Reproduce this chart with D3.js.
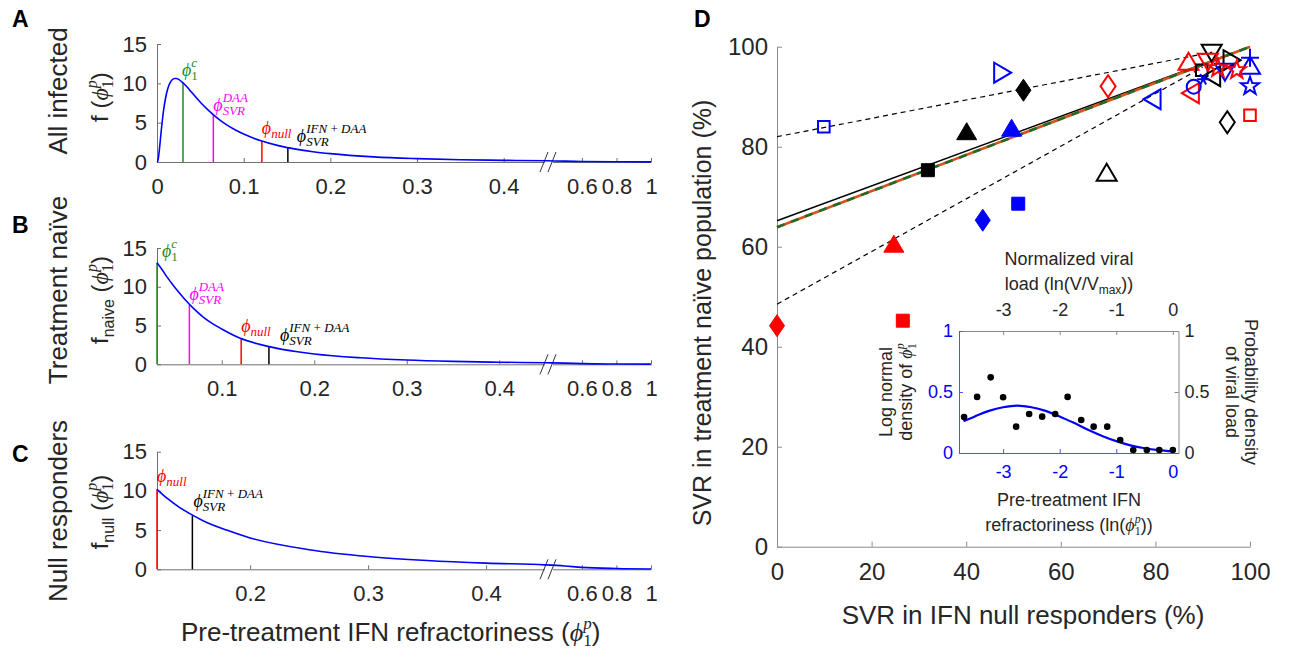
<!DOCTYPE html>
<html><head><meta charset="utf-8">
<script src="https://cdn.jsdelivr.net/npm/d3@7"></script>
<style>body{margin:0;background:#fff;} svg{display:block;} text{white-space:pre;}</style>
</head><body><svg id="c" width="1289" height="649"></svg>
<script>
// ===================== DATA =====================
// Panels A-C : density curves
const phiGridA=[0,0.001,0.003,0.005,0.0075,0.01,0.0125,0.015,0.0175,0.02,0.0225,0.025,0.03,0.035,0.04,0.05,0.06,0.07,0.08,0.09,0.1,0.12,0.14,0.16,0.18,0.2,0.25,0.3,0.35,0.4,0.45,0.5,0.6,0.8,1.0];
const fAll=[0,0.15,1.85,4.1,6.5,8.2,9.35,10.05,10.45,10.62,10.62,10.5,10.05,9.5,8.85,7.6,6.5,5.55,4.75,4.1,3.55,2.7,2.08,1.64,1.31,1.06,0.65,0.43,0.29,0.21,0.15,0.11,0.065,0.026,0.012];
const phiGridB=[0.03,0.035,0.04,0.05,0.06,0.07,0.08,0.09,0.1,0.12,0.14,0.16,0.18,0.2,0.25,0.3,0.35,0.4,0.45,0.5,0.6,0.8,1.0];
const fNaive=[13.1,12.3,11.4,9.8,8.4,7.15,6.1,5.25,4.55,3.35,2.6,2.05,1.65,1.33,0.84,0.55,0.38,0.27,0.2,0.15,0.086,0.034,0.016];
const phiGridC=[0.121,0.13,0.14,0.15,0.16,0.18,0.2,0.25,0.3,0.35,0.4,0.45,0.5,0.6,0.8,1.0];
const fNull=[10.2,9.0,7.9,7.0,6.2,5.0,4.0,2.5,1.63,1.12,0.79,0.57,0.43,0.25,0.1,0.046];
const thresholdPhi=[0.03,0.065,0.121,0.151];           // phi1c, phiSVR^DAA, phinull, phiSVR^IFN+DAA
const lineTopA=[10.1,6.0,2.7,1.85];
const lineTopB=[13.1,7.7,3.3,2.25];
const lineTopC=[null,null,10.2,6.85];
const xTicksA=[0,0.1,0.2,0.3,0.4,0.6,0.8,1];
const xTicksB=[0.1,0.2,0.3,0.4,0.6,0.8,1];
const xTicksC=[0.2,0.3,0.4,0.6,0.8,1];
const yTicksABC=[0,5,10,15];
// Panel D : trial data
const svrNull=[9.9,40.1,47.6,52.1,49.6,31.9,70.0,79.4,69.7,51.0,43.5,24.7,0,26.6,95.2,100,100,100,100,87.0,91.9,87.5,88.1,89.8,91.1,92.0,96.1,94.7,93.2,97.2,90.1];
const svrNaive=[84,83,94.8,91.3,83.7,75.3,92.1,89.5,74.8,68.6,65.3,60.5,44.2,45.2,84.9,86.3,92.1,96.2,97.8,97,98.8,90.7,92,95.3,97,94.1,97.3,95,95.7,95.3,93.5];
const markerShape=['square','triUp','triRight','diamond','triUp','square','diamond','triLeft','triUp','square','diamond','triUp','diamond','square','diamond','square','star','triUp','plus','triUp','triDown','triLeft','circle','square','triDown','triLeft','triRight','triDown','star','star','asterisk'];
const markerColor=['blue','black','blue','black','blue','black','red','blue','black','blue','blue','red','red','red','black','red','blue','blue','blue','red','black','red','blue','black','red','black','black','blue','red','red','blue'];
const markerFilled=[0,1,0,1,1,1,0,0,0,1,1,1,1,1,0,0,0,0,0,0,0,0,0,0,0,0,0,0,0,0,0];
const fitX=[0,100];
const fitBlack=[65.2,100];
const fitColored=[63.9,100];
const upperX=[0,92], upperY=[82,98.9];
const lowerX=[0,90], lowerY=[48.5,95.9];
const dTicks=[0,20,40,60,80,100];
// Inset
const lnPhiGrid=[-3.7,-3.5,-3.25,-3,-2.75,-2.5,-2.25,-2,-1.75,-1.5,-1.25,-1,-0.75,-0.5,-0.25,0];
const lnDensity=[0.26,0.3,0.345,0.375,0.388,0.375,0.345,0.3,0.247,0.19,0.14,0.097,0.063,0.039,0.023,0.013];
const lnViral=[-3.69,-3.46,-3.22,-3.0,-2.77,-2.54,-2.31,-2.08,-1.86,-1.62,-1.40,-1.16,-0.93,-0.70,-0.46,-0.24,0.0];
const viralDensity=[0.295,0.46,0.62,0.457,0.216,0.32,0.298,0.32,0.46,0.27,0.216,0.216,0.106,0.025,0.025,0.025,0.025];
const insetTicksX=[-3,-2,-1,0];
const insetTicksY=[0,0.5,1];

// ===================== STYLE =====================
const SANS='"Liberation Sans", Arial, Helvetica, sans-serif';
const SERIF='"Liberation Serif","DejaVu Serif","Times New Roman",serif';
const TXT='#262626', AX='#707070';
const GREEN='#1f8a1f', MAG='#ff00ff', RED='#ff0000', BLUE='#0000ff', ORANGE='#d95319', DKGREEN='#1e6b2a';
const COL={blue:BLUE,red:RED,black:'#000'};
const thrColor=[GREEN,MAG,RED,'#000'];

const svg=d3.select('#c');
svg.append('rect').attr('width',1289).attr('height',649).attr('fill','#fff');

function rich(parent,x,y,rot,anchor,color,parts){
  const t=parent.append('text').attr('transform',`translate(${x},${y}) rotate(${rot})`)
    .attr('text-anchor',anchor).attr('fill',color);
  let cur=0, prevW=0, pend=0;
  parts.forEach(p=>{
    const ts=t.append('tspan').text(p.t).attr('font-size',p.size).attr('font-family',p.fam||SANS);
    if(p.it) ts.attr('font-style','italic');
    if(p.bold) ts.attr('font-weight','bold');
    const sh=p.shift||0; const dy=sh-cur; cur=sh;
    if(dy) ts.attr('dy',dy);
    let dx=pend; pend=0;
    const w=ts.node().getComputedTextLength();
    if(p.stack){ dx-=prevW; if(w<prevW) pend=prevW-w; prevW=Math.max(w,prevW);} else prevW=w;
    if(dx) ts.attr('dx',dx);
  });
  return t;
}
function phiParts(size,sub,sup,subIt){
  const s=Math.round(size*0.7);
  const parts=[{t:'\u03D5',size:size,fam:SERIF,it:true}];
  if(sub) parts.push({t:sub,size:s,fam:SERIF,it:subIt!==false,shift:Math.round(size*0.22)});
  if(sup) parts.push({t:sup,size:s,fam:SERIF,it:true,shift:-Math.round(size*0.5),stack:!!sub});
  return parts;
}
function styleAxis(g,fs,lineCol,txtCol){
  g.select('.domain').attr('stroke',lineCol||AX);
  g.selectAll('.tick line').attr('stroke',lineCol||AX);
  g.selectAll('.tick text').attr('fill',txtCol||TXT).attr('font-size',fs).attr('font-family',SANS);
}
const fmtTick=d=>String(d);

// ===================== PANELS A-C =====================
function panel(p){
  const g=svg.append('g');
  const x=d3.scaleLinear().domain([p.x0,0.45,0.4501,1]).range([157,p.xb,556,651]);
  const y=d3.scaleLinear().domain([0,15]).range([p.y0,p.y15]);
  const gx=g.append('g').attr('transform',`translate(0,${p.y0})`)
    .call(d3.axisBottom(x).tickValues(p.ticks).tickSizeInner(-4).tickSizeOuter(0).tickPadding(16).tickFormat(fmtTick));
  styleAxis(gx,22);
  const gy=g.append('g').attr('transform','translate(157,0)')
    .call(d3.axisLeft(y).tickValues(yTicksABC).tickSizeInner(-4).tickSizeOuter(0).tickPadding(10));
  styleAxis(gy,22);
  // axis break
  g.append('rect').attr('x',545).attr('y',p.y0-11).attr('width',8).attr('height',22).attr('fill','#fff');
  [544,552].forEach(bx=>g.append('line').attr('x1',bx-4).attr('y1',p.y0+10).attr('x2',bx+4).attr('y2',p.y0-10)
    .attr('stroke','#333').attr('stroke-width',1));
  // threshold lines
  p.tops.forEach((h,i)=>{
    if(h==null) return;
    g.append('line').attr('x1',x(thresholdPhi[i])).attr('x2',x(thresholdPhi[i]))
      .attr('y1',y(0)).attr('y2',y(h)).attr('stroke',thrColor[i]).attr('stroke-width',1.5);
  });
  // curve
  g.append('path').datum(d3.zip(p.xs,p.ys))
    .attr('d',d3.line().curve(d3.curveMonotoneX).x(d=>x(d[0])).y(d=>y(d[1])))
    .attr('fill','none').attr('stroke',BLUE).attr('stroke-width',1.6);
  // annotations
  p.ann.forEach(a=>{
    const i=a.i;
    rich(g,x(thresholdPhi[i])+a.dx,y(p.tops[i])+a.dy,0,'start',thrColor[i],phiParts(18,a.sub,a.sup,a.subIt));
  });
  return {x,y};
}

const annA=[
  {i:0,dx:-1,dy:-7,sub:'1',sup:'c',subIt:false},
  {i:1,dx:0,dy:-4,sub:'SVR',sup:'DAA'},
  {i:2,dx:0,dy:-7,sub:'null'},
  {i:3,dx:9,dy:-5,sub:'SVR',sup:'IFN\u2009+\u2009DAA'}];
const annB=[
  {i:0,dx:5,dy:-6,sub:'1',sup:'c',subIt:false},
  {i:1,dx:0,dy:-5,sub:'SVR',sup:'DAA'},
  {i:2,dx:0,dy:-7,sub:'null'},
  {i:3,dx:11,dy:-6,sub:'SVR',sup:'IFN\u2009+\u2009DAA'}];
const annC=[
  {i:2,dx:0,dy:-7,sub:'null'},
  {i:3,dx:1,dy:-9,sub:'SVR',sup:'IFN\u2009+\u2009DAA'}];

panel({x0:0,xb:547,y0:162,y15:44,ticks:xTicksA,tops:lineTopA,xs:phiGridA,ys:fAll,ann:annA});
panel({x0:0.03,xb:545.5,y0:364.3,y15:248,ticks:xTicksB,tops:lineTopB,xs:phiGridB,ys:fNaive,ann:annB});
panel({x0:0.121,xb:545,y0:569.3,y15:451.7,ticks:xTicksC,tops:lineTopC,xs:phiGridC,ys:fNull,ann:annC});

// panel letters and labels
[['A',12,27],['B',12,233],['C',12,462],['D',694,27]].forEach(([t,x,y])=>
  svg.append('text').attr('x',x).attr('y',y).text(t).attr('font-family',SANS).attr('font-weight','bold').attr('font-size',23).attr('fill','#000'));
rich(svg,67,91,-90,'middle',TXT,[{t:'All infected',size:26}]);
rich(svg,67,290,-90,'middle',TXT,[{t:'Treatment na\u00efve',size:26}]);
rich(svg,67,511,-90,'middle',TXT,[{t:'Null responders',size:26}]);
function fLabel(x,y,sub){
  const parts=[{t:'f',size:24}];
  if(sub) parts.push({t:sub,size:16,shift:6});
  parts.push({t:' (',size:24,shift:0});
  parts.push({t:'\u03D5',size:24,fam:SERIF,it:true});
  parts.push({t:'1',size:16,fam:SERIF,shift:5});
  parts.push({t:'p',size:16,fam:SERIF,it:true,shift:-11,stack:true});
  parts.push({t:')',size:24,shift:0});
  rich(svg,x,y,-90,'middle',TXT,parts);
}
fLabel(108,97,null);
fLabel(108,300,'naive');
fLabel(108,512,'null');
rich(svg,181,641,0,'start',TXT,[{t:'Pre-treatment IFN refractoriness (',size:26},
  {t:'\u03D5',size:26,fam:SERIF,it:true},{t:'1',size:17,fam:SERIF,shift:5},
  {t:'p',size:17,fam:SERIF,it:true,shift:-12,stack:true},{t:')',size:26,shift:0}]);

// ===================== PANEL D =====================
const xD=d3.scaleLinear().domain([0,100]).range([777,1250]);
const yD=d3.scaleLinear().domain([0,100]).range([546.7,46.7]);
const gD=svg.append('g');
const gxD=gD.append('g').attr('transform','translate(0,546.7)')
  .call(d3.axisBottom(xD).tickValues(dTicks).tickSizeInner(-5).tickSizeOuter(0).tickPadding(16).tickFormat(fmtTick));
styleAxis(gxD,24,'#8a8a8a');
const gyD=gD.append('g').attr('transform','translate(777,0)')
  .call(d3.axisLeft(yD).tickValues(dTicks).tickSizeInner(-5).tickSizeOuter(0).tickPadding(9).tickFormat(fmtTick));
styleAxis(gyD,24,'#8a8a8a');

const lineD=d3.line().x(d=>xD(d[0])).y(d=>yD(d[1]));
gD.append('path').datum(d3.zip(upperX,upperY)).attr('d',lineD).attr('fill','none').attr('stroke','#000').attr('stroke-width',1.2).attr('stroke-dasharray','5,4');
gD.append('path').datum(d3.zip(lowerX,lowerY)).attr('d',lineD).attr('fill','none').attr('stroke','#000').attr('stroke-width',1.2).attr('stroke-dasharray','5,4');
gD.append('path').datum(d3.zip(fitX,fitBlack)).attr('d',lineD).attr('fill','none').attr('stroke','#000').attr('stroke-width',1.5);
gD.append('path').datum(d3.zip(fitX,fitColored)).attr('d',lineD).attr('fill','none').attr('stroke',ORANGE).attr('stroke-width',2.6);
gD.append('path').datum(d3.zip(fitX,fitColored)).attr('d',lineD).attr('fill','none').attr('stroke',DKGREEN).attr('stroke-width',2.6).attr('stroke-dasharray','8,7');

function starPath(R,r){
  let s='';
  for(let k=0;k<10;k++){const a=-Math.PI/2+k*Math.PI/5, rr=k%2?r:R; s+=(k?'L':'M')+(rr*Math.cos(a)).toFixed(2)+','+(rr*Math.sin(a)).toFixed(2);}
  return s+'Z';
}
function shapePath(s,filled){
  switch(s){
    case 'square': return filled?'M-6.5,-6.5h13v13h-13z':'M-5.8,-5.8h11.6v11.6h-11.6z';
    case 'triUp': return 'M0,-9L10,8L-10,8Z';
    case 'triDown': return 'M0,9L10,-8L-10,-8Z';
    case 'triRight': return 'M9,0L-8,-10L-8,10Z';
    case 'triLeft': return 'M-9,0L8,-10L8,10Z';
    case 'diamond': return 'M0,-11L7.5,0L0,11L-7.5,0Z';
    case 'circle': return 'M7,0A7,7 0 1,1 -7,0A7,7 0 1,1 7,0Z';
    case 'plus': return 'M-9,0H9M0,-9V9';
    case 'star': return starPath(9.5,3.8);
    case 'asterisk': return 'M-6,0H6M-3,-5.2L3,5.2M-3,5.2L3,-5.2';
  }
}
svrNull.forEach((v,i)=>{
  const c=COL[markerColor[i]], f=markerFilled[i];
  gD.append('path').attr('d',shapePath(markerShape[i],f))
    .attr('transform',`translate(${xD(v)},${yD(svrNaive[i])})`)
    .attr('fill',f?c:'none').attr('stroke',c).attr('stroke-width',f?1:2).attr('stroke-linejoin','miter');
});

rich(svg,711,313,-90,'middle',TXT,[{t:'SVR in treatment na\u00efve population (%)',size:25}]);
rich(svg,1023,624,0,'middle',TXT,[{t:'SVR in IFN null responders (%)',size:26}]);

// ===================== INSET =====================
const xI=d3.scaleLinear().domain([-3.78,0.1]).range([959,1178.5]);
const yI=d3.scaleLinear().domain([0,1]).range([453,331]);
const gI=svg.append('g');
gI.append('rect').attr('x',959).attr('y',331).attr('width',219.5).attr('height',122).attr('fill','#fff');
const gIt=gI.append('g').attr('transform','translate(0,331)')
  .call(d3.axisTop(xI).tickValues(insetTicksX).tickSizeInner(-4).tickSizeOuter(0).tickPadding(15).tickFormat(fmtTick));
styleAxis(gIt,18,'#8a8a8a');
const gIr=gI.append('g').attr('transform','translate(1178.5,0)')
  .call(d3.axisRight(yI).tickValues(insetTicksY).tickSizeInner(-4).tickSizeOuter(0).tickPadding(6).tickFormat(fmtTick));
styleAxis(gIr,18,'#8a8a8a');
const gIb=gI.append('g').attr('transform','translate(0,453)')
  .call(d3.axisBottom(xI).tickValues(insetTicksX).tickSizeInner(-4).tickSizeOuter(0).tickPadding(12).tickFormat(fmtTick));
styleAxis(gIb,18,'#5050ff',BLUE);
const gIl=gI.append('g').attr('transform','translate(959,0)')
  .call(d3.axisLeft(yI).tickValues(insetTicksY).tickSizeInner(-4).tickSizeOuter(0).tickPadding(6).tickFormat(fmtTick));
styleAxis(gIl,18,'#5050ff',BLUE);

gI.append('path').datum(d3.zip(lnPhiGrid,lnDensity))
  .attr('d',d3.line().curve(d3.curveMonotoneX).x(d=>xI(d[0])).y(d=>yI(d[1])))
  .attr('fill','none').attr('stroke',BLUE).attr('stroke-width',2.2);
lnViral.forEach((v,i)=>gI.append('circle').attr('cx',xI(v)).attr('cy',yI(viralDensity[i])).attr('r',3.3).attr('fill','#000'));

rich(svg,1069,265,0,'middle',TXT,[{t:'Normalized viral',size:18}]);
rich(svg,1069,290,0,'middle',TXT,[{t:'load (ln(V/V',size:18},{t:'max',size:12,shift:4},{t:'))',size:18,shift:0}]);
rich(svg,1069,506,0,'middle',TXT,[{t:'Pre-treatment IFN',size:18}]);
rich(svg,1069,531,0,'middle',TXT,[{t:'refractoriness (ln(',size:18},{t:'\u03D5',size:18,fam:SERIF,it:true},
  {t:'1',size:12,fam:SERIF,shift:4},{t:'p',size:12,fam:SERIF,it:true,shift:-8,stack:true},{t:'))',size:18,shift:0}]);
rich(svg,892,392,-90,'middle',TXT,[{t:'Log normal',size:18}]);
rich(svg,912,392,-90,'middle',TXT,[{t:'density of ',size:18},{t:'\u03D5',size:18,fam:SERIF,it:true},
  {t:'1',size:12,fam:SERIF,shift:4},{t:'p',size:12,fam:SERIF,it:true,shift:-8,stack:true}]);
rich(svg,1245,392,90,'middle',TXT,[{t:'Probability density',size:18}]);
rich(svg,1226,392,90,'middle',TXT,[{t:'of viral load',size:18}]);
</script>
</body></html>
